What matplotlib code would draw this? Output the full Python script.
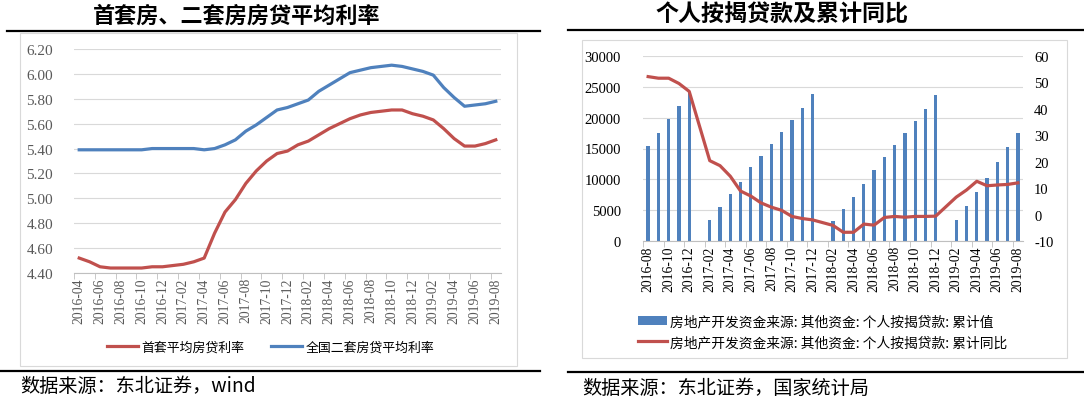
import matplotlib
matplotlib.use("Agg")
import matplotlib.pyplot as plt
import numpy as np
import pandas as pd
from matplotlib.patches import Rectangle
from matplotlib.lines import Line2D

W, H = 1084, 402
CJK = ['Noto Sans CJK SC', 'DejaVu Sans']
NUM = 'Liberation Serif'
RED = '#C0504D'
BLUE = '#4F81BD'
GRID = '#D9D9D9'

# 左图: 首套/二套房贷平均利率 (2016-04 ~ 2019-08)
rate_months = pd.period_range('2016-04', '2019-08', freq='M').strftime('%Y-%m').tolist()
first_rate = [4.52, 4.49, 4.45, 4.44, 4.44, 4.44, 4.44, 4.45, 4.45, 4.46, 4.47, 4.49,
              4.52, 4.72, 4.89, 4.99, 5.12, 5.22, 5.30, 5.36, 5.38, 5.43, 5.46, 5.51,
              5.56, 5.60, 5.64, 5.67, 5.69, 5.70, 5.71, 5.71, 5.68, 5.66, 5.63, 5.56,
              5.48, 5.42, 5.42, 5.44, 5.47]
second_rate = [5.39, 5.39, 5.39, 5.39, 5.39, 5.39, 5.39, 5.40, 5.40, 5.40, 5.40, 5.40,
               5.39, 5.40, 5.43, 5.47, 5.54, 5.59, 5.65, 5.71, 5.73, 5.76, 5.79, 5.86,
               5.91, 5.96, 6.01, 6.03, 6.05, 6.06, 6.07, 6.06, 6.04, 6.02, 5.99, 5.89,
               5.81, 5.74, 5.75, 5.76, 5.78]

# 右图: 个人按揭贷款累计值及累计同比 (2016-08 ~ 2019-08)
loan_months = pd.period_range('2016-08', '2019-08', freq='M').strftime('%Y-%m').tolist()
nan = np.nan
loan_value = [15350, 17500, 19760, 21970, 24000, nan, 3450, 5550, 7650, 9590, 12010, 13840,
              15780, 17720, 19600, 21590, 23850, nan, 3280, 5220, 7160, 9260, 11520, 13620,
              15560, 17500, 19390, 21380, 23640, nan, 3450, 5650, 8020, 10230, 12820, 15190,
              17450]
loan_yoy = [52.2, 51.6, 51.6, 49.6, 46.6, nan, 20.4, 18.5, 14.5, 8.9, 7.0, 4.4,
            2.8, 1.6, -0.7, -1.5, -2.0, nan, -4.1, -6.7, -6.7, -3.6, -4.0, -1.1,
            -0.7, -1.0, -0.7, -0.7, -0.6, nan, 6.6, 9.3, 12.6, 10.9, 11.2, 11.4,
            12.0]


def box(x0, y0, x1, y1):
    return [x0 / W, 1 - y1 / H, (x1 - x0) / W, (y1 - y0) / H]


def hline(fig, x0, x1, y, color='black', lw=1.6):
    fig.add_artist(Line2D([x0 / W, x1 / W], [1 - y / H, 1 - y / H], color=color, lw=lw,
                          transform=fig.transFigure))


def frame(fig, x0, y0, x1, y1):
    fig.add_artist(Rectangle((x0 / W, 1 - y1 / H), (x1 - x0) / W, (y1 - y0) / H,
                             transform=fig.transFigure, fill=False, ec=GRID, lw=0.8))


def cat_axis(ax, labels, color):
    n = len(labels)
    ax.set_xlim(-0.5, n - 0.5)
    ax.set_xticks(range(0, n, 2))
    ax.set_xticklabels(labels[::2], rotation=90, fontsize=9.8, family=NUM, color=color)
    ax.set_xticks(np.arange(-0.5, n, 2), minor=True)
    ax.tick_params(axis='x', which='major', length=0, pad=3)
    ax.tick_params(axis='x', which='minor', length=4, color='#BFBFBF', direction='out')
    for s in ['top', 'right', 'left']:
        ax.spines[s].set_visible(False)
    ax.spines['bottom'].set_color('#BFBFBF')
    ax.grid(axis='y', color=GRID, lw=0.8)
    ax.set_axisbelow(True)


fig = plt.figure(figsize=(W / 100, H / 100), dpi=100)

# ---------- 左图 ----------
fig.text(237 / W, 1 - 16 / H, '首套房、二套房房贷平均利率', family=CJK, fontsize=15.9,
         fontweight='bold', ha='center', va='center')
hline(fig, 7, 540, 32)
frame(fig, 20, 34, 517, 367)
hline(fig, 0, 540, 372)
fig.text(20 / W, 1 - 387 / H, '数据来源：东北证券，wind', family=CJK, fontsize=13.8,
         ha='left', va='center')

ax1 = fig.add_axes(box(74, 50, 501, 274))
x = np.arange(len(rate_months))
ax1.plot(x, first_rate, color=RED, lw=2.3, label='首套平均房贷利率')
ax1.plot(x, second_rate, color=BLUE, lw=2.3, label='全国二套房贷平均利率')
ax1.set_ylim(4.4, 6.2)
ax1.set_yticks(np.arange(4.4, 6.21, 0.2))
ax1.set_yticklabels([f'{v:.2f}' for v in np.arange(4.4, 6.21, 0.2)], family=NUM,
                    fontsize=11, color='#595959')
ax1.tick_params(axis='y', length=0, pad=15)
cat_axis(ax1, rate_months, '#595959')
ax1.legend(loc='center', bbox_to_anchor=(0.46, -0.33), ncol=2, frameon=False,
           prop={'family': CJK, 'size': 9.3}, handlelength=2.4, handletextpad=0.25,
           columnspacing=2.1)

# ---------- 右图 ----------
fig.text(782 / W, 1 - 15 / H, '个人按揭贷款及累计同比', family=CJK, fontsize=16.6,
         fontweight='bold', ha='center', va='center')
hline(fig, 568, 1084, 31)
frame(fig, 582, 41, 1067, 359)
hline(fig, 568, 1084, 373)
fig.text(582 / W, 1 - 388 / H, '数据来源：东北证券，国家统计局', family=CJK, fontsize=13.8,
         ha='left', va='center')

ax2 = fig.add_axes(box(643, 57, 1023, 242))
x2 = np.arange(len(loan_months))
vals = np.array(loan_value, dtype=float)
bars = ax2.bar(x2, np.nan_to_num(vals), width=0.32, color=BLUE,
               label='房地产开发资金来源: 其他资金: 个人按揭贷款: 累计值')
ax2.set_ylim(0, 30000)
ax2.set_yticks(range(0, 30001, 5000))
ax2.set_yticklabels([str(v) for v in range(0, 30001, 5000)], family=NUM, fontsize=10.5)
ax2.tick_params(axis='y', length=0, pad=16)
cat_axis(ax2, loan_months, 'black')

ax3 = ax2.twinx()
yoy = np.array(loan_yoy, dtype=float)
ok = ~np.isnan(yoy)
line, = ax3.plot(x2[ok], yoy[ok], color=RED, lw=2.3,
                 label='房地产开发资金来源: 其他资金: 个人按揭贷款: 累计同比')
ax3.set_ylim(-10, 60)
ax3.set_yticks(range(-10, 61, 10))
ax3.set_yticklabels([str(v) for v in range(-10, 61, 10)], family=NUM, fontsize=10.5)
ax3.tick_params(axis='y', length=0, pad=8)
for s in ax3.spines.values():
    s.set_visible(False)

ax2.legend([bars, line], [bars.get_label(), line.get_label()], loc='upper left',
           bbox_to_anchor=(-0.045, -0.33), frameon=False, prop={'family': CJK, 'size': 9.9},
           handlelength=2.1, handletextpad=0.2, labelspacing=0.5)

fig.savefig('out.png', dpi=100)
